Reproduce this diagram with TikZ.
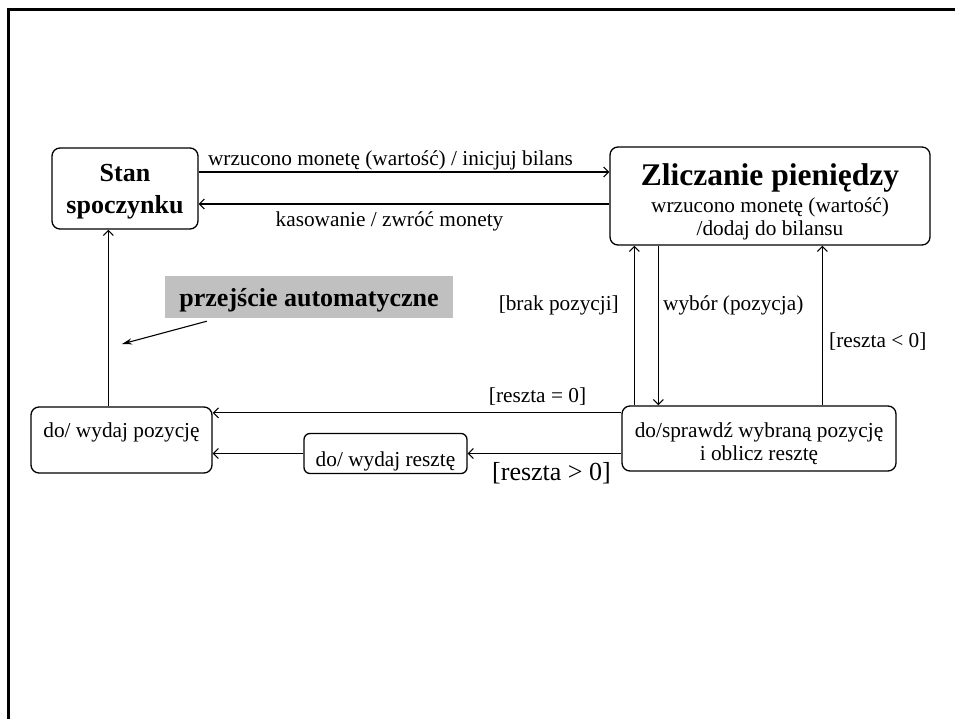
\documentclass[tikz,border=0pt]{standalone}
\usepackage{fontspec}
\setmainfont{Liberation Serif}
\usepackage{tikz}
\usetikzlibrary{arrows.meta}
\definecolor{autogray}{RGB}{192,192,192}

\begin{document}
\begin{tikzpicture}[x=1pt,y=1pt,
    state/.style={draw, line width=1.3pt, rounded corners=8pt, align=center,
      font=\fontsize{21.3}{23}\selectfont},
    arr/.style={line width=1.1pt, -{Straight Barb[length=5pt,width=10pt]}},
    pointer/.style={line width=1.1pt, -{Stealth[length=10pt,width=6pt]}},
    lbl/.style={font=\fontsize{21.3}{23}\selectfont}]
            \tikzstyle{every node}+=[inner sep=0pt]
            \useasboundingbox (0,0) rectangle (955,-719);
            \clip (0,0) rectangle (955,-719);
            \draw [line width=3pt] (8,-9.5) rectangle (1000,-800);
            % stany
            \node [state, minimum width=146pt, minimum height=81pt, text height=52pt, text depth=1pt,
              font=\fontsize{26}{32}\selectfont\bfseries] (spoczynek) at (125,-188.5) {Stan\\spoczynku};
            \node [state, minimum width=320pt, minimum height=98pt, text height=84pt, text depth=4pt]
              (zliczanie) at (770,-196)
              {{\fontsize{31.5}{33}\selectfont\bfseries Zliczanie pieniędzy}\\[4pt]wrzucono monetę (wartość)\\/dodaj do bilansu};
            \node [state, minimum width=181pt, minimum height=66pt, text height=15pt, text depth=21pt]
              (pozycja) at (121.5,-440) {do/ wydaj pozycję};
            \node [state, minimum width=163pt, minimum height=40pt, rounded corners=6pt, text height=28pt, text depth=3pt]
              (reszta) at (385.5,-453.5) {do/ wydaj resztę};
            \node [state, minimum width=274pt, minimum height=65pt, text height=47pt, text depth=4pt]
              (sprawdz) at (759,-438.5) {do/sprawdź wybraną pozycję\\i oblicz resztę};
            \node [fill=autogray, minimum width=288pt, minimum height=42pt, text height=20pt, text depth=2pt,
              font=\fontsize{26}{30}\selectfont\bfseries] (auto) at (309,-297) {przejście automatyczne};
            % przejscia
            \draw [arr] ([yshift=16.5pt]spoczynek.east) -- ([yshift=16.5pt]spoczynek.east -| zliczanie.west);
            \coordinate (kasA) at ([yshift=-15.5pt]spoczynek.east);
            \draw [arr] (kasA -| zliczanie.west) -- (kasA);
            \draw (390.5,-166) node [lbl, anchor=base] (lblWrzucono) {wrzucono monetę (wartość) / inicjuj bilans};
            \draw (389.5,-226.5) node [lbl, anchor=base] (lblKasowanie) {kasowanie / zwróć monety};
            \coordinate (brakA) at ([xshift=13pt]sprawdz.north west);
            \draw [arr] (brakA) -- (brakA |- zliczanie.south);
            \draw (619,-310) node [lbl, anchor=base east] (lblBrak) {[brak pozycji]};
            \coordinate (wyborA) at ([xshift=37pt]sprawdz.north west);
            \draw [arr] (wyborA |- zliczanie.south) -- (wyborA);
            \draw (663,-310) node [lbl, anchor=base west] (lblWybor) {wybór (pozycja)};
            \coordinate (mniejA) at ([xshift=201pt]sprawdz.north west);
            \draw [arr] (mniejA) -- (mniejA |- zliczanie.south);
            \draw (829,-347) node [lbl, anchor=base west] (lblMniej) {[reszta < 0]};
            \coordinate (zeroA) at ([yshift=-7.5pt]sprawdz.north west);
            \draw [arr] (zeroA) -- (zeroA -| pozycja.east);
            \draw (537.5,-402) node [lbl, anchor=base] (lblZero) {[reszta = 0]};
            \draw [arr] (sprawdz.west |- reszta.east) -- (reszta.east);
            \draw (551.5,-480) node [anchor=base, font=\fontsize{26}{30}\selectfont] (lblWiecej) {[reszta > 0]};
            \draw [arr] (reszta.west) -- (reszta.west -| pozycja.east);
            \coordinate (wydajA) at ([xshift=78pt]pozycja.north west);
            \draw [arr] (wydajA) -- (wydajA |- spoczynek.south);
            \coordinate (autoTip) at (122,-344);
            \draw [pointer] ([xshift=42pt,yshift=-3pt]auto.south west) -- (autoTip);
            \end{tikzpicture}
\end{document}
